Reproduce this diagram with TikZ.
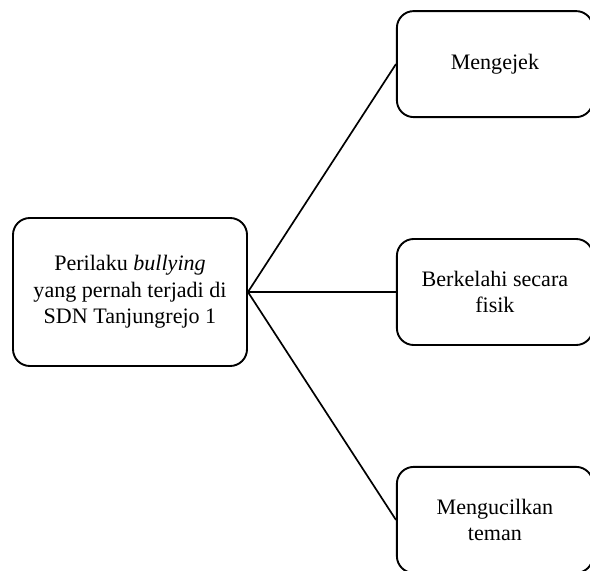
\documentclass[tikz,border=0pt]{standalone}
\usepackage{fontspec}
\setmainfont{Liberation Serif}
\usetikzlibrary{positioning}
\tikzset{font={\fontsize{15.7pt}{19}\selectfont}}

\begin{document}
\begin{tikzpicture}[
  node distance=3.0cm and 3.7cm,
  cause/.style={rectangle, draw, line width=1.35pt, rounded corners=0.42cm, minimum width=5.85cm, minimum height=3.7cm, align=center},
  kind/.style={rectangle, draw, line width=1.35pt, rounded corners=0.42cm, minimum width=4.9cm, minimum height=2.65cm, align=center},
  link/.style={line width=1.2pt}
]
\useasboundingbox (0,0) rectangle (14.75,14.25);
\node[cause] (p) at (3.25,6.95) {Perilaku \textit{bullying}\\yang pernah terjadi di\\SDN Tanjungrejo 1};
\node[kind, right=of p] (f) {Berkelahi secara\\fisik};
\node[kind, above=of f] (e) {Mengejek};
\node[kind, below=of f] (k) {Mengucilkan\\teman};
\draw[link] (p.east) -- (e.west);
\draw[link] (p.east) -- (f.west);
\draw[link] (p.east) -- (k.west);
\end{tikzpicture}
\end{document}
